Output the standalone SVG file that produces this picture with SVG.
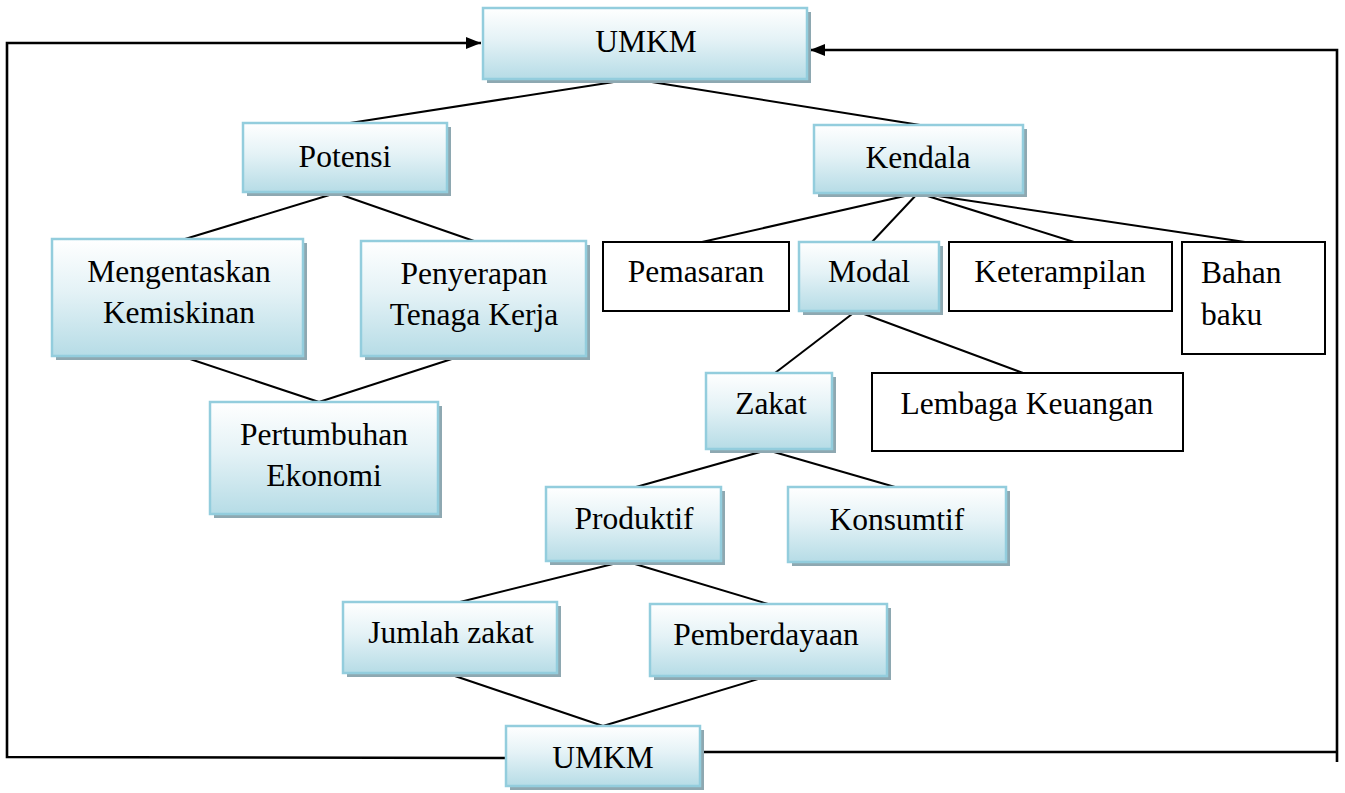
<svg xmlns="http://www.w3.org/2000/svg" width="1345" height="793" viewBox="0 0 1345 793">
<defs>
<linearGradient id="g" x1="0" y1="0" x2="0" y2="1">
<stop offset="0" stop-color="#FFFFFF"/>
<stop offset="0.45" stop-color="#E4F2F6"/>
<stop offset="1" stop-color="#B6DCE6"/>
</linearGradient>
<marker id="ah" markerWidth="16" markerHeight="12" refX="15" refY="6" orient="auto" markerUnits="userSpaceOnUse">
<path d="M0,0 L15,6 L0,12 Z" fill="#000"/>
</marker>
<style>
.sh{fill:#8EA8B1}
.bx{fill:url(#g);stroke:#93CDDD;stroke-width:2.5}
.wb{fill:#fff;stroke:#000;stroke-width:2}
.t{font-family:"Liberation Serif","Times New Roman",serif;font-size:31.5px;fill:#000;text-anchor:middle}
.tl{font-family:"Liberation Serif","Times New Roman",serif;font-size:31.5px;fill:#000}
.c{stroke:#000;stroke-width:2;fill:none}
.a{stroke:#000;stroke-width:2.6;fill:none}
</style>
</defs>
<rect width="1345" height="793" fill="#fff"/>
<g id="connectors">
<line class="c" x1="633" y1="79" x2="350" y2="123"/>
<line class="c" x1="633" y1="79" x2="920" y2="125"/>
<line class="c" x1="336" y1="193" x2="185" y2="239"/>
<line class="c" x1="336" y1="193" x2="474" y2="241"/>
<line class="c" x1="181" y1="356" x2="319" y2="402"/>
<line class="c" x1="461" y1="356" x2="319" y2="402"/>
<line class="c" x1="918" y1="193" x2="702" y2="242"/>
<line class="c" x1="918" y1="193" x2="872" y2="242"/>
<line class="c" x1="918" y1="193" x2="1074" y2="242"/>
<line class="c" x1="918" y1="193" x2="1245" y2="242"/>
<line class="c" x1="856" y1="311" x2="775" y2="373"/>
<line class="c" x1="856" y1="311" x2="1023" y2="373"/>
<line class="c" x1="767" y1="450" x2="636" y2="487"/>
<line class="c" x1="767" y1="450" x2="895" y2="487"/>
<line class="c" x1="625" y1="561" x2="460" y2="602"/>
<line class="c" x1="625" y1="561" x2="768" y2="604"/>
<line class="c" x1="446" y1="673" x2="603" y2="726"/>
<line class="c" x1="768" y1="676" x2="603" y2="726"/>
<polyline class="a" points="506,758 7,757 7,43 481,43" marker-end="url(#ah)"/>
<polyline class="a" points="700,752 1337,752"/>
<polyline class="a" points="1337,762 1337,50 810,50" marker-end="url(#ah)"/>
</g>
<g id="umkm-top">
<rect class="sh" x="487" y="12" width="324" height="71"/>
<rect class="bx" x="483" y="8" width="324" height="71"/>
<text class="t" x="646" y="52">UMKM</text>
</g>
<g id="potensi">
<rect class="sh" x="247" y="127" width="204" height="69"/>
<rect class="bx" x="243" y="123" width="204" height="69"/>
<text class="t" x="345" y="167">Potensi</text>
</g>
<g id="kendala">
<rect class="sh" x="818" y="129" width="209" height="68"/>
<rect class="bx" x="814" y="125" width="209" height="68"/>
<text class="t" x="918" y="168">Kendala</text>
</g>
<g id="mengentaskan">
<rect class="sh" x="56" y="243" width="251" height="117"/>
<rect class="bx" x="52" y="239" width="251" height="117"/>
<text class="t" x="179" y="282">Mengentaskan</text>
<text class="t" x="179" y="323">Kemiskinan</text>
</g>
<g id="penyerapan">
<rect class="sh" x="365" y="245" width="225" height="115"/>
<rect class="bx" x="361" y="241" width="225" height="115"/>
<text class="t" x="474" y="284">Penyerapan</text>
<text class="t" x="474" y="325">Tenaga Kerja</text>
</g>
<g id="pertumbuhan">
<rect class="sh" x="214" y="406" width="228" height="112"/>
<rect class="bx" x="210" y="402" width="228" height="112"/>
<text class="t" x="324" y="445">Pertumbuhan</text>
<text class="t" x="324" y="486">Ekonomi</text>
</g>
<g id="pemasaran">
<rect class="wb" x="603" y="242" width="186" height="69"/>
<text class="t" x="696" y="282">Pemasaran</text>
</g>
<g id="modal">
<rect class="sh" x="803" y="246" width="140" height="69"/>
<rect class="bx" x="799" y="242" width="140" height="69"/>
<text class="t" x="869" y="282">Modal</text>
</g>
<g id="keterampilan">
<rect class="wb" x="949" y="242" width="223" height="69"/>
<text class="t" x="1060" y="282">Keterampilan</text>
</g>
<g id="bahan-baku">
<rect class="wb" x="1182" y="242" width="143" height="112"/>
<text class="tl" x="1201" y="283">Bahan</text>
<text class="tl" x="1201" y="325">baku</text>
</g>
<g id="zakat">
<rect class="sh" x="710" y="377" width="126" height="76"/>
<rect class="bx" x="706" y="373" width="126" height="76"/>
<text class="t" x="771" y="414">Zakat</text>
</g>
<g id="lembaga-keuangan">
<rect class="wb" x="872" y="373" width="311" height="78"/>
<text class="t" x="1027" y="414">Lembaga Keuangan</text>
</g>
<g id="produktif">
<rect class="sh" x="550" y="491" width="175" height="74"/>
<rect class="bx" x="546" y="487" width="175" height="74"/>
<text class="t" x="634" y="529">Produktif</text>
</g>
<g id="konsumtif">
<rect class="sh" x="792" y="491" width="218" height="75"/>
<rect class="bx" x="788" y="487" width="218" height="75"/>
<text class="t" x="897" y="530">Konsumtif</text>
</g>
<g id="jumlah-zakat">
<rect class="sh" x="347" y="606" width="214" height="71"/>
<rect class="bx" x="343" y="602" width="214" height="71"/>
<text class="t" x="451" y="643">Jumlah zakat</text>
</g>
<g id="pemberdayaan">
<rect class="sh" x="654" y="608" width="237" height="72"/>
<rect class="bx" x="650" y="604" width="237" height="72"/>
<text class="t" x="766" y="645">Pemberdayaan</text>
</g>
<g id="umkm-bottom">
<rect class="sh" x="510" y="730" width="194" height="60"/>
<rect class="bx" x="506" y="726" width="194" height="60"/>
<text class="t" x="603" y="768">UMKM</text>
</g>
</svg>
